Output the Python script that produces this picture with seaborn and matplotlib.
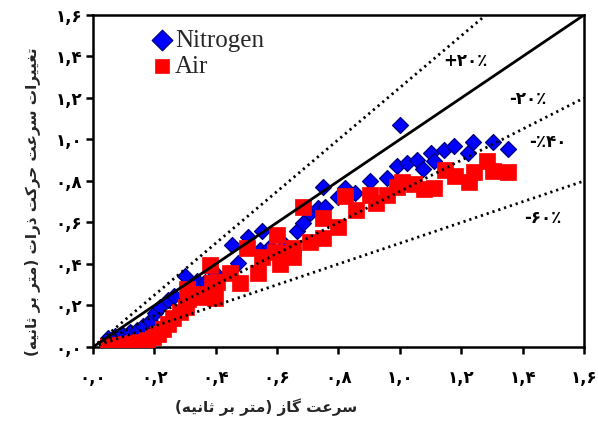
import matplotlib
matplotlib.use("Agg")
import matplotlib.pyplot as plt
import seaborn as sns
import pandas as pd

# ---- data -------------------------------------------------------------
nitrogen_x = [0.049, 0.072, 0.094, 0.121, 0.143, 0.163, 0.186, 0.202, 0.218, 0.244,
              0.264, 0.300, 0.316, 0.339, 0.365, 0.397, 0.453, 0.472, 0.505, 0.544,
              0.550, 0.577, 0.625, 0.664, 0.684, 0.707, 0.733, 0.749, 0.756, 0.798,
              0.821, 0.853, 0.902, 0.958, 0.990, 1.000, 1.023, 1.055, 1.075, 1.101,
              1.111, 1.143, 1.176, 1.221, 1.238, 1.303, 1.352]
nitrogen_y = [0.043, 0.053, 0.063, 0.072, 0.082, 0.101, 0.126, 0.164, 0.193, 0.227,
              0.246, 0.343, 0.261, 0.319, 0.314, 0.357, 0.493, 0.406, 0.531, 0.469,
              0.560, 0.483, 0.493, 0.560, 0.599, 0.647, 0.671, 0.773, 0.676, 0.725,
              0.768, 0.744, 0.802, 0.812, 0.874, 1.068, 0.889, 0.899, 0.860, 0.937,
              0.894, 0.947, 0.971, 0.937, 0.986, 0.986, 0.952]

air_x = [0.049, 0.068, 0.088, 0.107, 0.130, 0.153, 0.176, 0.195, 0.212, 0.228,
         0.244, 0.261, 0.283, 0.303, 0.309, 0.306, 0.336, 0.352, 0.381, 0.388,
         0.404, 0.397, 0.446, 0.479, 0.502, 0.537, 0.550, 0.593, 0.599, 0.609,
         0.619, 0.651, 0.651, 0.684, 0.707, 0.749, 0.749, 0.798, 0.821, 0.857,
         0.902, 0.922, 0.958, 0.990, 1.007, 1.046, 1.078, 1.111, 1.147, 1.179,
         1.225, 1.241, 1.283, 1.303, 1.352]
air_y = [0.005, 0.005, 0.010, 0.014, 0.019, 0.024, 0.034, 0.048, 0.063, 0.087,
         0.111, 0.140, 0.169, 0.193, 0.232, 0.280, 0.256, 0.242, 0.396, 0.309,
         0.314, 0.237, 0.357, 0.309, 0.478, 0.357, 0.435, 0.459, 0.541, 0.401,
         0.454, 0.478, 0.435, 0.676, 0.507, 0.527, 0.623, 0.580, 0.729, 0.662,
         0.734, 0.696, 0.734, 0.773, 0.797, 0.787, 0.763, 0.768, 0.855, 0.826,
         0.797, 0.845, 0.894, 0.850, 0.845]

# reference lines y = k * x
guide_slopes = [1.25, 1.0, 0.75, 0.5]
guide_styles = ["dotted", "solid", "dotted", "dotted"]

guide_labels = ["+۲۰٪", "-۲۰٪", "-٪۴۰", "-۶۰٪"]
guide_label_x = [1.215, 1.417, 1.482, 1.466]
guide_label_y = [1.377, 1.193, 0.986, 0.623]

tick_values = [0.0, 0.2, 0.4, 0.6, 0.8, 1.0, 1.2, 1.4, 1.6]
tick_labels = ["۰,۰", "۰,۲", "۰,۴", "۰,۶", "۰,۸", "۱,۰", "۱,۲", "۱,۴", "۱,۶"]

x_title = "سرعت گاز (متر بر ثانیه)"
y_title = "تغییرات سرعت حرکت ذرات (متر بر ثانیه)"


# ---- minimal Persian shaping (contextual forms + visual order) ---------
# letter: (isolated, final, initial, medial); None for right-joining letters
FORMS = {
    "ا": ("\uFE8D", "\uFE8E", None, None),
    "ب": ("\uFE8F", "\uFE90", "\uFE91", "\uFE92"),
    "ت": ("\uFE95", "\uFE96", "\uFE97", "\uFE98"),
    "ث": ("\uFE99", "\uFE9A", "\uFE9B", "\uFE9C"),
    "ح": ("\uFEA1", "\uFEA2", "\uFEA3", "\uFEA4"),
    "ذ": ("\uFEAB", "\uFEAC", None, None),
    "ر": ("\uFEAD", "\uFEAE", None, None),
    "ز": ("\uFEAF", "\uFEB0", None, None),
    "س": ("\uFEB1", "\uFEB2", "\uFEB3", "\uFEB4"),
    "ع": ("\uFEC9", "\uFECA", "\uFECB", "\uFECC"),
    "غ": ("\uFECD", "\uFECE", "\uFECF", "\uFED0"),
    "م": ("\uFEE1", "\uFEE2", "\uFEE3", "\uFEE4"),
    "ن": ("\uFEE5", "\uFEE6", "\uFEE7", "\uFEE8"),
    "ه": ("\uFEE9", "\uFEEA", "\uFEEB", "\uFEEC"),
    "ک": ("\uFB8E", "\uFB8F", "\uFB90", "\uFB91"),
    "گ": ("\uFB92", "\uFB93", "\uFB94", "\uFB95"),
    "ی": ("\uFBFC", "\uFBFD", "\uFBFE", "\uFBFF"),
}


def shape_rtl(text):
    out = []
    n = len(text)
    for i, ch in enumerate(text):
        if ch not in FORMS:
            out.append(ch)
            continue
        iso, fin, ini, med = FORMS[ch]
        prev = text[i - 1] if i > 0 else ""
        nxt = text[i + 1] if i < n - 1 else ""
        join_prev = prev in FORMS and FORMS[prev][2] is not None
        join_next = ini is not None and nxt in FORMS
        if join_prev and join_next:
            out.append(med)
        elif join_prev:
            out.append(fin)
        elif join_next:
            out.append(ini)
        else:
            out.append(iso)
    visual = "".join(reversed(out))
    return visual.translate(str.maketrans("()", ")("))


# ---- figure -----------------------------------------------------------
sns.set_theme(style="white")
plt.rcParams["font.family"] = ["DejaVu Sans"]

fig = plt.figure(figsize=(5.98, 4.21), dpi=100)
ax = fig.add_axes([0.1555, 0.1758, 0.8211, 0.7886])

df_n = pd.DataFrame({"x": nitrogen_x, "y": nitrogen_y})
df_a = pd.DataFrame({"x": air_x, "y": air_y})

sns.scatterplot(data=df_n, x="x", y="y", marker="D", s=66, color="#0000FF",
                edgecolor="#00007A", linewidth=0.9, label="Nitrogen", ax=ax,
                zorder=2, clip_on=True)
sns.scatterplot(data=df_a, x="x", y="y", marker="s", s=135, color="#FF0000",
                edgecolor="#FF0000", linewidth=0.5, label="Air", ax=ax,
                zorder=3, clip_on=True)

for k, style in zip(guide_slopes, guide_styles):
    xs = [0.0, 1.6]
    ys = [0.0, 1.6 * k]
    if style == "solid":
        ax.plot(xs, ys, color="black", lw=2.0, zorder=4)
    else:
        ax.plot(xs, ys, color="black", lw=2.0, linestyle=(0, (0.8, 1.4)),
                zorder=4)

for lab, lx, ly in zip(guide_labels, guide_label_x, guide_label_y):
    ax.text(lx, ly, lab, ha="center", va="center", fontsize=12,
            fontweight="bold", color="black", zorder=5)

ax.set_xlim(0, 1.6)
ax.set_ylim(0, 1.6)
ax.set_xticks(tick_values)
ax.set_yticks(tick_values)
ax.set_xticklabels(tick_labels, fontsize=12, fontweight="bold")
ax.set_yticklabels(tick_labels, fontsize=12, fontweight="bold")
ax.tick_params(axis="both", direction="out", length=5, width=1.8,
               color="black", labelcolor="black", left=True, bottom=True)
ax.tick_params(axis="x", pad=11)
ax.tick_params(axis="y", pad=3)

for sp in ax.spines.values():
    sp.set_visible(True)
    sp.set_color("black")
    sp.set_linewidth(1.8)

ax.set_xlabel(shape_rtl(x_title), fontsize=11, fontweight="bold")
ax.xaxis.set_label_coords(0.352, -0.181)
ax.xaxis.label.set_verticalalignment("center")
ax.set_ylabel(shape_rtl(y_title), fontsize=11, fontweight="bold")
ax.yaxis.set_label_coords(-0.122, 0.437)
ax.yaxis.label.set_verticalalignment("center")

leg = ax.legend(loc="upper left", bbox_to_anchor=(0.08, 1.01), frameon=False,
                handletextpad=0.0, labelspacing=0.15, handlelength=1.0,
                borderaxespad=0.3, prop={"family": "Liberation Serif", "size": 18})
for h in leg.legend_handles:
    h.set_sizes([110])

fig.savefig("out.png", dpi=100)
